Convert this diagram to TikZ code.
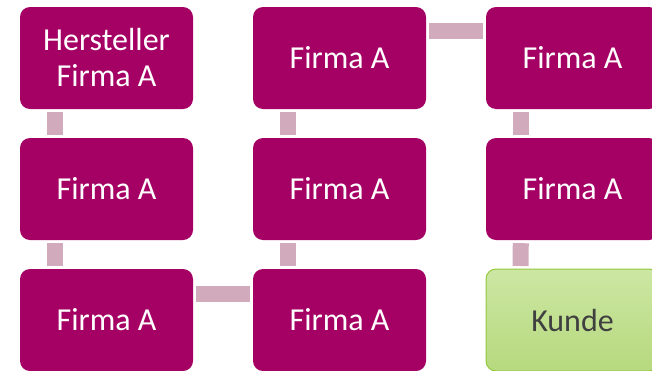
\documentclass[tikz,border=0pt]{standalone}
\usepackage{fontspec}
\setmainfont{Carlito}
\definecolor{mag}{HTML}{A50064}
\definecolor{conncol}{HTML}{D1ABBC}
\definecolor{kgtop}{HTML}{CCE7A3}
\definecolor{kgbot}{HTML}{B7D97E}
\definecolor{kborder}{HTML}{92C83E}
\definecolor{ktext}{HTML}{404040}
\tikzset{
  firm/.style={rectangle, rounded corners=10pt, fill=mag, draw=none,
    minimum width=173pt, minimum height=102pt, inner sep=0pt, text=white,
    align=center, font=\fontsize{32}{36}\selectfont},
  kunde/.style={rectangle, rounded corners=10pt, top color=kgtop, bottom color=kgbot,
    draw=kborder, line width=1pt, minimum width=173pt, minimum height=102pt,
    inner sep=0pt, text=ktext, font=\fontsize{32}{36}\selectfont},
  conn/.style={draw=conncol, line width=16pt, shorten <=3pt, shorten >=3pt}
}
\begin{document}
\begin{tikzpicture}[x=1pt,y=-1pt]
\useasboundingbox (0,0) rectangle (652,370);
\node[firm] (a1) at (106.5,58) {Hersteller\\Firma A};
\node[firm] (a2) at (106.5,189) {Firma A};
\node[firm] (a3) at (106.5,320) {Firma A};
\node[firm] (b3) at (339.5,320) {Firma A};
\node[firm] (b2) at (339.5,189) {Firma A};
\node[firm] (b1) at (339.5,58) {Firma A};
\node[firm] (c1) at (572.5,58) {Firma A};
\node[firm] (c2) at (572.5,189) {Firma A};
\node[kunde] (k) at (572.5,320) {Kunde};
% vertical connectors
\draw[conn] ([xshift=35pt]a1.south west) -- ([xshift=35pt]a2.north west);
\draw[conn] ([xshift=35pt]a2.south west) -- ([xshift=35pt]a3.north west);
\draw[conn] ([xshift=35pt]b3.north west) -- ([xshift=35pt]b2.south west);
\draw[conn] ([xshift=35pt]b2.north west) -- ([xshift=35pt]b1.south west);
\draw[conn] ([xshift=35pt]c1.south west) -- ([xshift=35pt]c2.north west);
\draw[conn] ([xshift=35pt]c2.south west) -- ([xshift=35pt,yshift=-0.5pt]k.north west);
% horizontal connectors
\draw[conn] ([yshift=-25.5pt]a3.north east) -- ([yshift=-25.5pt]b3.north west);
\draw[conn] ([yshift=-24.5pt]b1.north east) -- ([yshift=-24.5pt]c1.north west);
\end{tikzpicture}
\end{document}
